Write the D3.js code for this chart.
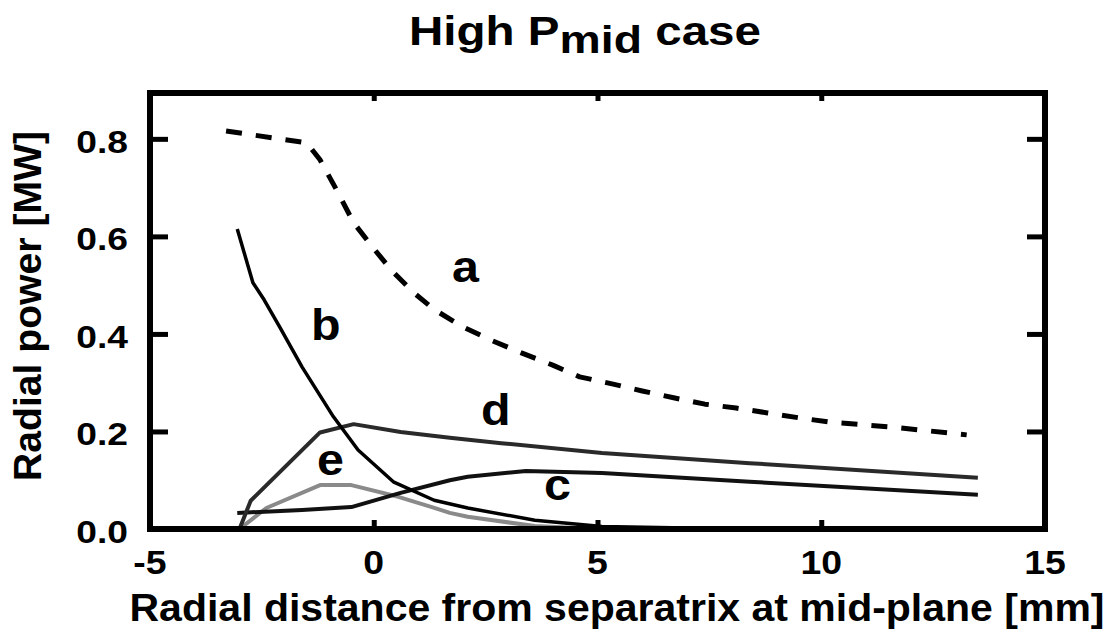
<!DOCTYPE html>
<html>
<head>
<meta charset="utf-8">
<script src="https://cdn.jsdelivr.net/npm/d3@7"></script>
<style>
  body { margin: 0; background: #fff; }
  text { font-family: "Liberation Sans", Arial, sans-serif; font-weight: bold; fill: #000; }
</style>
</head>
<body>
<svg id="chart"></svg>
<script>
// curve values (x in mm, y in MW)
const aX = [-3.3, -1.5, -1.2, -0.8, -0.45, 0, 0.4, 0.9, 1.35, 2.0, 2.6, 3.3, 4.0, 4.6, 5.35, 6.0, 6.7, 7.4, 8.1, 8.8, 9.5, 10.2, 11.6, 13.25];
const aY = [0.816, 0.792, 0.757, 0.69, 0.628, 0.575, 0.53, 0.484, 0.45, 0.414, 0.388, 0.361, 0.336, 0.312, 0.297, 0.283, 0.269, 0.256, 0.248, 0.238, 0.228, 0.219, 0.209, 0.193];

const bX = [-3.05, -2.7, -2.45, -2.1, -1.6, -0.9, -0.35, 0.45, 1.35, 2.1, 3.6, 5.1, 7, 10, 13.5];
const bY = [0.615, 0.505, 0.47, 0.414, 0.332, 0.23, 0.162, 0.096, 0.059, 0.043, 0.018, 0.005, 0.002, 0.001, 0.0];

const cX = [-3.05, -1.6, -0.5, 0.6, 1.7, 2.1, 3.4, 5.1, 8.4, 13.5];
const cY = [0.033, 0.039, 0.045, 0.074, 0.1, 0.107, 0.119, 0.115, 0.097, 0.07];

const dX = [-3.0, -2.75, -1.2, -0.45, 0.6, 1.7, 2.85, 5.1, 8.4, 13.5];
const dY = [0.0, 0.058, 0.198, 0.215, 0.199, 0.187, 0.176, 0.156, 0.135, 0.105];

const eX = [-3.0, -2.4, -1.2, -0.5, 0.55, 1.3, 1.7, 2.1, 3.6, 5.0];
const eY = [0.0, 0.043, 0.09, 0.09, 0.066, 0.045, 0.033, 0.025, 0.006, 0.0];

const xTicks = [-5, 0, 5, 10, 15];
const yTicks = [0.0, 0.2, 0.4, 0.6, 0.8];

const width = 1113, height = 637;
const plot = {left: 150, right: 1045, top: 93, bottom: 529};

const svg = d3.select('#chart')
    .attr('width', width)
    .attr('height', height);

const x = d3.scaleLinear().domain([-5, 15]).range([plot.left, plot.right]);
const y = d3.scaleLinear().domain([0, 0.894]).range([plot.bottom, plot.top]);

const line = d3.line()
    .x(d => x(d[0]))
    .y(d => y(d[1]));

const zip = (xs, ys) => xs.map((v, i) => [v, ys[i]]);

// the figure's lettering is wider than Liberation Sans, so stretch it
function widen(sel, k) {
    sel.each(function() {
        const len = this.getComputedTextLength();
        d3.select(this)
            .attr('textLength', len * k)
            .attr('lengthAdjust', 'spacingAndGlyphs');
    });
}

// curves
const series = [
    {name: 'e', data: zip(eX, eY), color: '#8a8a8a', w: 4},
    {name: 'c', data: zip(cX, cY), color: '#111', w: 4},
    {name: 'd', data: zip(dX, dY), color: '#2a2a2a', w: 4},
    {name: 'b', data: zip(bX, bY), color: '#000', w: 3.5},
    {name: 'a', data: zip(aX, aY), color: '#000', w: 5, dash: '16,14'}
];

series.forEach(s => {
    svg.append('path')
        .datum(s.data)
        .attr('fill', 'none')
        .attr('stroke', s.color)
        .attr('stroke-width', s.w)
        .attr('stroke-linejoin', 'round')
        .attr('stroke-dasharray', s.dash || null)
        .attr('d', line);
});

// axes, ticks inward on all four sides
const xAxisB = d3.axisBottom(x).tickValues([0, 5, 10]).tickSize(-9).tickFormat('');
const xAxisT = d3.axisTop(x).tickValues([0, 5, 10]).tickSize(-8).tickFormat('');
const yAxisL = d3.axisLeft(y).tickValues([0.2, 0.4, 0.6, 0.8]).tickSize(-18).tickFormat('');
const yAxisR = d3.axisRight(y).tickValues([0.2, 0.4, 0.6, 0.8]).tickSize(-18).tickFormat('');

svg.append('g').attr('transform', `translate(0,${plot.bottom})`).call(xAxisB);
svg.append('g').attr('transform', `translate(0,${plot.top})`).call(xAxisT);
svg.append('g').attr('transform', `translate(${plot.left},0)`).call(yAxisL);
svg.append('g').attr('transform', `translate(${plot.right},0)`).call(yAxisR);

svg.selectAll('.domain').remove();
svg.selectAll('.tick line').attr('stroke', '#000').attr('stroke-width', 5);

svg.append('rect')
    .attr('x', plot.left).attr('y', plot.top)
    .attr('width', plot.right - plot.left).attr('height', plot.bottom - plot.top)
    .attr('fill', 'none').attr('stroke', '#000').attr('stroke-width', 6);

// tick labels
svg.selectAll('.xlab')
    .data(xTicks)
    .enter().append('text')
    .attr('x', d => x(d))
    .attr('y', 574)
    .attr('text-anchor', 'middle')
    .attr('font-size', 34)
    .text(d => d)
    .call(widen, 1.1);

svg.selectAll('.ylab')
    .data(yTicks)
    .enter().append('text')
    .attr('x', 128)
    .attr('y', d => y(d) + 14)
    .attr('text-anchor', 'end')
    .attr('font-size', 31)
    .text(d => d.toFixed(1))
    .call(widen, 1.2);

// axis titles
svg.append('text')
    .attr('x', 617)
    .attr('y', 621)
    .attr('text-anchor', 'middle')
    .attr('font-size', 38)
    .attr('textLength', 975)
    .attr('lengthAdjust', 'spacingAndGlyphs')
    .text('Radial distance from separatrix at mid-plane [mm]');

svg.append('text')
    .attr('transform', 'translate(41,306) rotate(-90)')
    .attr('text-anchor', 'middle')
    .attr('font-size', 38)
    .attr('textLength', 350)
    .attr('lengthAdjust', 'spacingAndGlyphs')
    .text('Radial power [MW]');

// title
const title = svg.append('text')
    .attr('x', 409)
    .attr('y', 45)
    .attr('font-size', 40)
    .attr('textLength', 352)
    .attr('lengthAdjust', 'spacingAndGlyphs');
title.append('tspan').text('High P');
title.append('tspan').attr('dy', 8).attr('font-size', 39).text('mid');
title.append('tspan').attr('dy', -8).text(' case');

// curve labels
const labels = [
    {t: 'a', x: 452, y: 282},
    {t: 'b', x: 311, y: 340},
    {t: 'c', x: 544, y: 500},
    {t: 'd', x: 481, y: 425},
    {t: 'e', x: 317, y: 475}
];
svg.selectAll('.clab')
    .data(labels)
    .enter().append('text')
    .attr('x', d => d.x)
    .attr('y', d => d.y)
    .attr('font-size', 44)
    .text(d => d.t)
    .call(widen, 1.1);
</script>
</body>
</html>
